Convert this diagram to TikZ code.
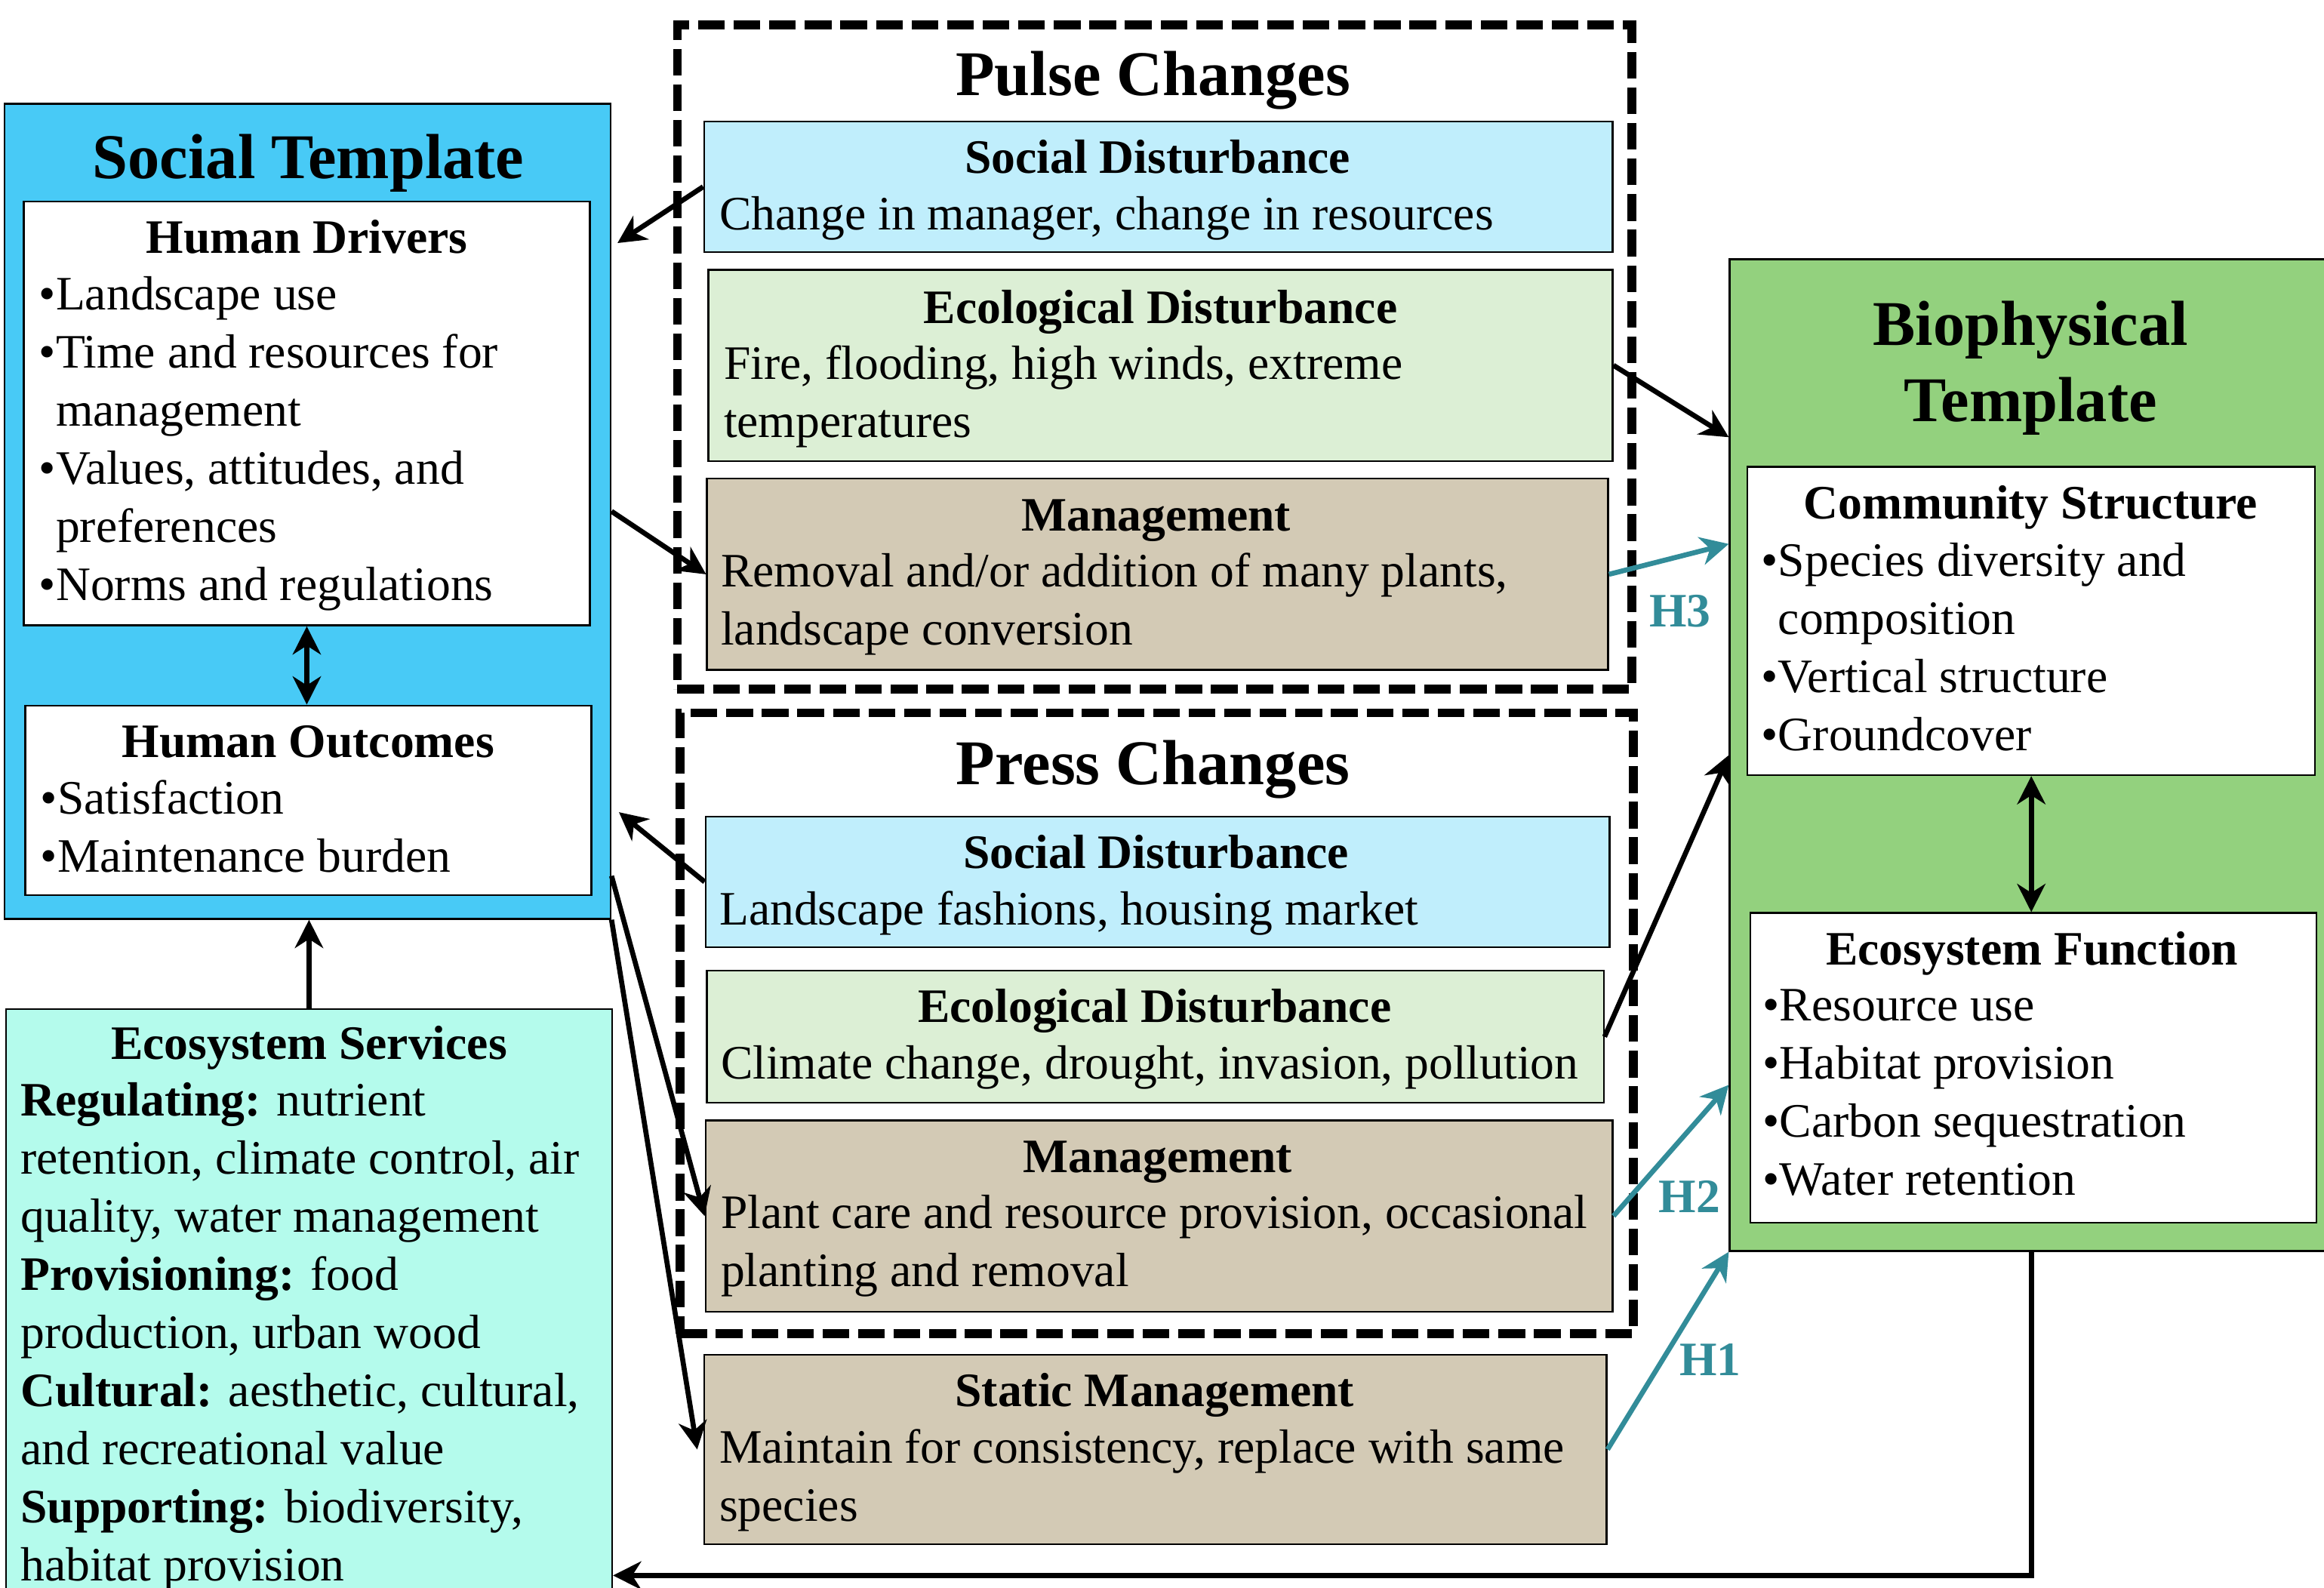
\documentclass[tikz,border=0pt]{standalone}
\usepackage{fontspec}
\setmainfont{Liberation Serif}
\usetikzlibrary{arrows.meta,fit,calc}
\definecolor{stblue}{RGB}{72,202,246}
\definecolor{sdblue}{RGB}{192,238,252}
\definecolor{edgreen}{RGB}{220,239,213}
\definecolor{mgtan}{RGB}{211,202,181}
\definecolor{bpgreen}{RGB}{147,209,126}
\definecolor{esaqua}{RGB}{180,251,236}
\definecolor{hteal}{RGB}{50,140,153}
\newcommand\bul{\textbullet}
\newcommand\ind{\phantom{\textbullet}}
\newcommand\blk[1]{\parbox[t]{380pt}{\fontsize{16.2}{19.6}\selectfont #1}}
\begin{document}
\begin{tikzpicture}[x=0.5pt,y=-0.5pt,
  box/.style={draw=black, line width=0.6pt, inner sep=0pt},
  dbox/.style={draw=black, line width=3pt, dash pattern=on 9pt off 3pt, inner sep=0pt},
  ttl/.style={font=\fontsize{21.5}{25.9}\selectfont\bfseries, inner sep=0pt, anchor=base},
  hdr/.style={font=\fontsize{16.2}{19.6}\selectfont\bfseries, inner sep=0pt, anchor=base},
  txt/.style={inner sep=0pt, anchor=base west},
  mytip/.tip={Stealth[length=9.5pt,width=9.5pt,inset=3pt]},
  arr/.style={line width=1.7pt, -mytip},
  darr/.style={line width=1.7pt, mytip-mytip},
  tarr/.style={arr, draw=hteal},
  hlab/.style={hdr, text=hteal}]
\path[use as bounding box] (0,0) rectangle (1568,1071);
\clip (0,0) rectangle (1568,1071);

% Social template
\node[box, fill=stblue, fit={(3,70) (412,620)}] (st) {};
\node[box, fill=white, fit={(16,136) (398,422)}] (hd) {};
\node[box, fill=white, fit={(17,476) (399,604)}] (ho) {};
\node[box, fill=esaqua, fit={(4,681) (413,1090)}] (es) {};
\node[ttl] (st-t) at (208,120.5) {Social Template};
\node[hdr] (hd-t) at (207,171) {Human Drivers};
\node[txt] (hd-b) at (26,209) {\blk{\bul Landscape use\\
\bul Time and resources for\\
\ind management\\
\bul Values, attitudes, and\\
\ind preferences\\
\bul Norms and regulations}};
\node[hdr] (ho-t) at (208,511) {Human Outcomes};
\node[txt] (ho-b) at (27,549) {\blk{\bul Satisfaction\\
\bul Maintenance burden}};
\node[hdr] (es-t) at (208.5,714.5) {Ecosystem Services};
\node[txt] (es-b) at (13.5,753) {\blk{{\bfseries Regulating:} nutrient\\
retention, climate control, air\\
quality, water management\\
{\bfseries Provisioning:} food\\
production, urban wood\\
{\bfseries Cultural:} aesthetic, cultural,\\
and recreational value\\
{\bfseries Supporting:} biodiversity,\\
habitat provision}};

% Pulse changes
\node[dbox, fit={(457,17) (1101,465)}] (pulse) {};
\node[ttl] (pulse-t) at (778,64.5) {Pulse Changes};
\node[box, fill=sdblue, fit={(475,82) (1088,170)}] (sdp) {};
\node[box, fill=edgreen, fit={(478,182) (1088,311)}] (edp) {};
\node[box, fill=mgtan, fit={(477,323) (1085,452)}] (mgp) {};
\node[hdr] (sdp-t) at (781,117) {Social Disturbance};
\node[txt] (sdp-b) at (485,155) {\blk{Change in manager, change in resources}};
\node[hdr] (edp-t) at (783,218) {Ecological Disturbance};
\node[txt] (edp-b) at (488,256) {\blk{Fire, flooding, high winds, extreme\\
temperatures}};
\node[hdr] (mgp-t) at (780,358) {Management};
\node[txt] (mgp-b) at (486,396) {\blk{Removal and/or addition of many plants,\\
landscape conversion}};

% Press changes
\node[dbox, fit={(459,481) (1102,900)}] (press) {};
\node[ttl] (press-t) at (778,529.5) {Press Changes};
\node[box, fill=sdblue, fit={(476,551) (1086,639)}] (sdq) {};
\node[box, fill=edgreen, fit={(477,655) (1082,744)}] (edq) {};
\node[box, fill=mgtan, fit={(476,756) (1088,885)}] (mgq) {};
\node[hdr] (sdq-t) at (780,586) {Social Disturbance};
\node[txt] (sdq-b) at (485,624) {\blk{Landscape fashions, housing market}};
\node[hdr] (edq-t) at (779,690) {Ecological Disturbance};
\node[txt] (edq-b) at (486,728) {\blk{Climate change, drought, invasion, pollution}};
\node[hdr] (mgq-t) at (781,791) {Management};
\node[txt] (mgq-b) at (486,829) {\blk{Plant care and resource provision, occasional\\
planting and removal}};

% Static management
\node[box, fill=mgtan, fit={(475,914) (1084,1042)}] (sm) {};
\node[hdr] (sm-t) at (779,949) {Static Management};
\node[txt] (sm-b) at (485,987) {\blk{Maintain for consistency, replace with same\\
species}};

% Biophysical template
\node[box, fill=bpgreen, fit={(1167,175) (1580,844)}] (bp) {};
\node[box, fill=white, fit={(1179,315) (1562,523)}] (cs) {};
\node[box, fill=white, fit={(1181,616) (1563,825)}] (ef) {};
\node[ttl] (bp-t) at (1370,233) {Biophysical};
\node[ttl] (bp-t2) at (1370,284.5) {Template};
\node[hdr] (cs-t) at (1370,350) {Community Structure};
\node[txt] (cs-b) at (1188,389) {\blk{\bul Species diversity and\\
\ind composition\\
\bul Vertical structure\\
\bul Groundcover}};
\node[hdr] (ef-t) at (1371,651) {Ecosystem Function};
\node[txt] (ef-b) at (1189,689) {\blk{\bul Resource use\\
\bul Habitat provision\\
\bul Carbon sequestration\\
\bul Water retention}};

% connectors
\draw[arr] (sdp.west) -- ($(st.east |- 0,164)+(4,0)$);
\draw[arr] (st.east) -- (mgp.west);
\draw[arr] (edp.east) -- (bp.west |- 0,295);
\draw[tarr] (mgp.east) -- (bp.west |- 0,367);
\draw[arr] (sdq.west) -- ($(st.east |- 0,548)+(5,0)$);
\draw[arr] (st.east |- 0,591) -- (mgq.west);
\draw[arr] (st.south east) -- ($(sm.west)+(-4,0)$);
\draw[arr] (edq.east) -- (bp.west);
\draw[tarr] (mgq.east) -- (bp.west |- 0,732);
\draw[tarr] (sm.east) -- (bp.south west);
\draw[arr] (es.north) -- (es.north |- st.south);
\draw[darr] (hd.south) -- (hd.south |- ho.north);
\draw[darr] (cs.south) -- (cs.south |- ef.north);
\draw[arr] (cs.south |- bp.south) |- (es.east |- 0,1063);

\node[hlab] (h3) at (1133.5,423) {H3};
\node[hlab] (h2) at (1140,818) {H2};
\node[hlab] (h1) at (1154,928) {H1};
\end{tikzpicture}
\end{document}
